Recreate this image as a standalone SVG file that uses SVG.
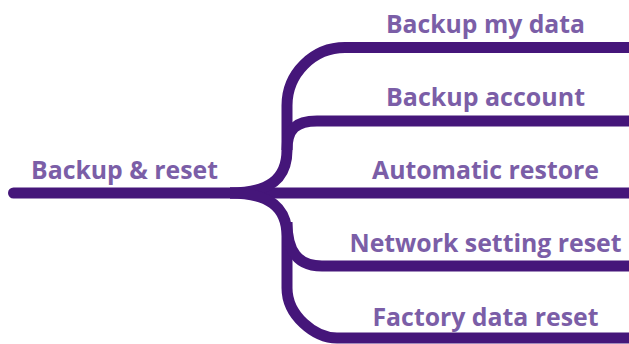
<svg xmlns="http://www.w3.org/2000/svg" width="629" height="344" viewBox="0 0 629 344">
  <style>
    .edge { fill: none; stroke: #45167A; stroke-width: 11; stroke-linecap: butt; stroke-linejoin: round; }
    .lbl { font-family: "Open Sans", "Noto Sans", "Liberation Sans", sans-serif; font-weight: 700; font-size: 25.5px; fill: #7B5EA7; text-anchor: middle; }
  </style>
  <rect width="629" height="344" fill="#ffffff"/>
  <g id="connectors">
    <path class="edge" d="M 13.5 193 H 629" style="stroke-linecap: round"/>
    <path class="edge" d="M 230 193 C 268 193 287 180 287 150 V 105.5 C 287 73.6 313 47.5 345 47.5 H 629"/>
    <path class="edge" d="M 287 150 C 287 129 296 121 317 121 H 629"/>
    <path class="edge" d="M 230 193 C 268 193 287 206 287 236 V 288 C 287 315.5 314.5 338 337 338 H 629"/>
    <path class="edge" d="M 287 222 C 287 252 298 266 322 266 H 629"/>
  </g>
  <g id="root">
    <text class="lbl" x="124.5" y="178.5" textLength="187" lengthAdjust="spacingAndGlyphs">Backup &amp; reset</text>
  </g>
  <g id="backup-my-data">
    <text class="lbl" x="485.5" y="33" textLength="199" lengthAdjust="spacingAndGlyphs">Backup my data</text>
  </g>
  <g id="backup-account">
    <text class="lbl" x="485.5" y="106" textLength="199" lengthAdjust="spacingAndGlyphs">Backup account</text>
  </g>
  <g id="automatic-restore">
    <text class="lbl" x="485.5" y="178.5" textLength="227" lengthAdjust="spacingAndGlyphs">Automatic restore</text>
  </g>
  <g id="network-setting-reset">
    <text class="lbl" x="485.5" y="252" textLength="272" lengthAdjust="spacingAndGlyphs">Network setting reset</text>
  </g>
  <g id="factory-data-reset">
    <text class="lbl" x="485.5" y="325.5" textLength="226" lengthAdjust="spacingAndGlyphs">Factory data reset</text>
  </g>
</svg>
